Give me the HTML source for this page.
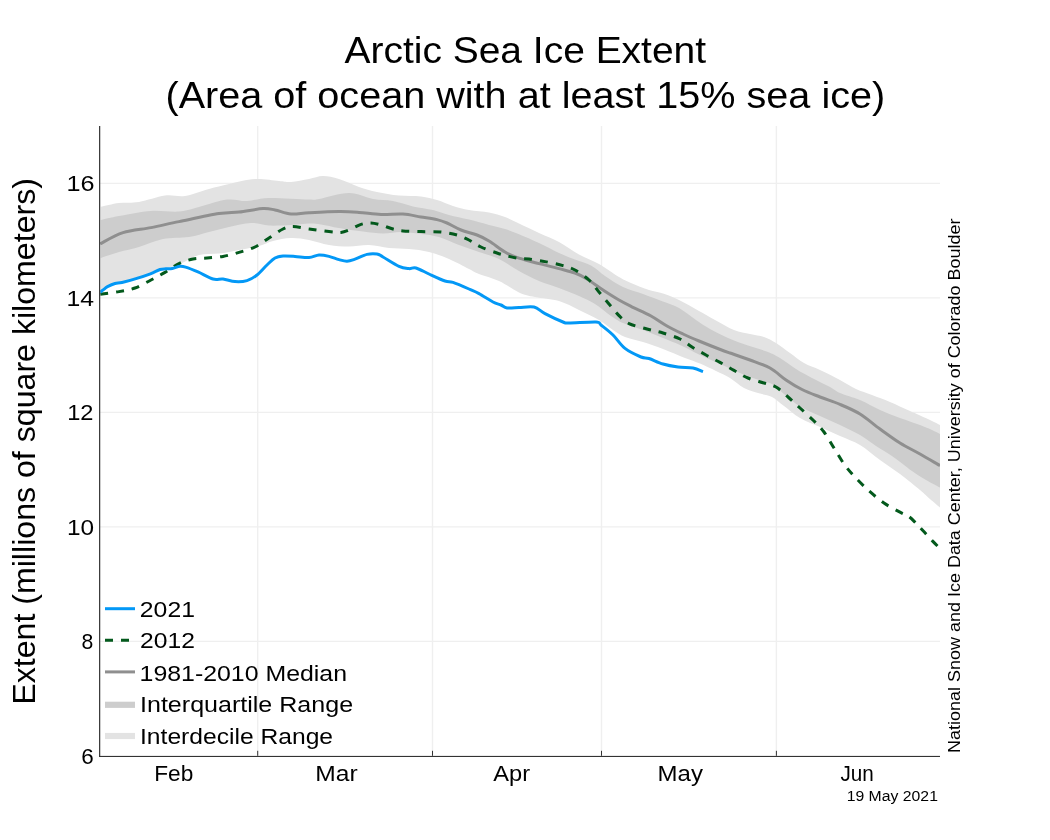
<!DOCTYPE html>
<html><head><meta charset="utf-8"><title>Arctic Sea Ice Extent</title>
<style>html,body{margin:0;padding:0;background:#fff;}body{width:1050px;height:840px;overflow:hidden;font-family:"Liberation Sans",sans-serif;}svg{display:block;will-change:transform;}</style></head>
<body>
<svg width="1050" height="840" viewBox="0 0 1050 840" font-family="Liberation Sans, sans-serif" fill="#000">
<rect width="1050" height="840" fill="#fff"/>
<g stroke="#efefef" stroke-width="1.4">
<line x1="100" x2="940" y1="183.4" y2="183.4"/>
<line x1="100" x2="940" y1="297.9" y2="297.9"/>
<line x1="100" x2="940" y1="412.4" y2="412.4"/>
<line x1="100" x2="940" y1="526.9" y2="526.9"/>
<line x1="100" x2="940" y1="641.4" y2="641.4"/>
<line x1="257.7" x2="257.7" y1="126" y2="756"/>
<line x1="432.5" x2="432.5" y1="126" y2="756"/>
<line x1="601.5" x2="601.5" y1="126" y2="756"/>
<line x1="776.4" x2="776.4" y1="126" y2="756"/>
</g>
<defs><clipPath id="pc"><rect x="100.2" y="126" width="839.8" height="630"/></clipPath></defs>
<g clip-path="url(#pc)">
<path d="M100.8 206.8 C103.8 206.2 112.6 203.8 119.0 203.0 C125.4 202.2 131.3 203.2 139.0 202.0 C146.7 200.8 157.3 196.6 165.0 195.6 C172.7 194.6 177.7 197.1 185.0 196.0 C192.3 194.9 201.7 191.0 209.0 189.0 C216.3 187.0 221.3 185.7 229.0 184.0 C236.7 182.3 246.7 179.5 255.0 179.0 C263.3 178.5 273.0 180.5 279.0 181.0 C285.0 181.5 286.0 182.3 291.0 182.0 C296.0 181.7 303.7 180.0 309.0 179.0 C314.3 178.0 318.0 176.0 323.0 176.0 C328.0 176.0 333.0 177.2 339.0 179.0 C345.0 180.8 352.7 184.8 359.0 187.0 C365.3 189.2 370.3 190.6 377.0 192.0 C383.7 193.4 391.7 194.9 399.0 195.6 C406.3 196.3 414.7 195.7 421.0 196.4 C427.3 197.1 431.7 198.4 437.0 200.0 C442.3 201.6 447.7 204.3 453.0 206.0 C458.3 207.7 463.0 208.9 469.0 210.0 C475.0 211.1 483.0 211.2 489.0 212.4 C495.0 213.6 500.0 215.1 505.0 217.0 C510.0 218.9 513.3 220.9 519.0 223.6 C524.7 226.3 532.3 229.9 539.0 233.0 C545.7 236.1 552.3 238.4 559.0 242.0 C565.7 245.6 572.3 250.7 579.0 254.4 C585.7 258.1 592.3 260.2 599.0 264.0 C605.7 267.8 613.7 273.8 619.0 277.0 C624.3 280.2 626.0 280.8 631.0 283.0 C636.0 285.2 643.7 288.2 649.0 290.0 C654.3 291.8 658.0 291.9 663.0 293.6 C668.0 295.3 673.0 297.1 679.0 300.0 C685.0 302.9 693.0 307.7 699.0 311.0 C705.0 314.3 709.2 316.8 715.0 320.0 C720.8 323.2 728.2 327.7 734.0 330.0 C739.8 332.3 745.0 332.8 750.0 334.0 C755.0 335.2 759.7 335.5 764.0 337.0 C768.3 338.5 771.7 340.3 776.0 343.0 C780.3 345.7 785.3 349.7 790.0 353.0 C794.7 356.3 799.0 360.2 804.0 363.0 C809.0 365.8 814.0 367.2 820.0 370.0 C826.0 372.8 834.0 376.8 840.0 380.0 C846.0 383.2 850.7 386.5 856.0 389.0 C861.3 391.5 866.3 392.8 872.0 395.0 C877.7 397.2 883.7 399.3 890.0 402.0 C896.3 404.7 903.3 408.0 910.0 411.0 C916.7 414.0 925.0 417.7 930.0 420.0 C935.0 422.3 938.3 424.2 940.0 425.0 L940.0 507.5 C938.3 506.1 933.3 501.9 930.0 499.0 C926.7 496.1 925.0 494.2 920.0 490.0 C915.0 485.8 906.7 479.0 900.0 474.0 C893.3 469.0 886.7 464.8 880.0 460.0 C873.3 455.2 866.7 449.0 860.0 445.0 C853.3 441.0 846.7 439.0 840.0 436.0 C833.3 433.0 826.7 430.0 820.0 427.0 C813.3 424.0 806.0 421.5 800.0 418.0 C794.0 414.5 788.7 409.5 784.0 406.0 C779.3 402.5 776.0 399.1 772.0 397.0 C768.0 394.9 764.7 395.1 760.0 393.6 C755.3 392.1 749.0 390.6 744.0 388.0 C739.0 385.4 734.7 380.8 730.0 378.0 C725.3 375.2 721.0 373.4 716.0 371.0 C711.0 368.6 705.2 365.8 700.0 363.6 C694.8 361.4 691.2 360.4 685.0 358.0 C678.8 355.6 670.0 351.7 663.0 349.0 C656.0 346.3 649.3 344.0 643.0 342.0 C636.7 340.0 630.0 339.0 625.0 337.0 C620.0 335.0 617.3 332.8 613.0 330.0 C608.7 327.2 604.7 323.3 599.0 320.0 C593.3 316.7 585.7 313.2 579.0 310.0 C572.3 306.8 566.3 303.2 559.0 301.0 C551.7 298.8 541.7 298.4 535.0 297.0 C528.3 295.6 525.0 295.1 519.0 292.4 C513.0 289.7 505.7 284.1 499.0 281.0 C492.3 277.9 484.0 276.0 479.0 274.0 C474.0 272.0 474.0 271.5 469.0 269.0 C464.0 266.5 455.7 261.8 449.0 259.0 C442.3 256.2 435.7 253.7 429.0 252.0 C422.3 250.3 415.7 249.7 409.0 249.0 C402.3 248.3 395.7 248.7 389.0 248.0 C382.3 247.3 375.7 245.2 369.0 245.0 C362.3 244.8 355.7 246.6 349.0 246.6 C342.3 246.6 335.7 246.1 329.0 245.0 C322.3 243.9 315.3 241.2 309.0 240.0 C302.7 238.8 297.0 237.8 291.0 238.0 C285.0 238.2 278.3 239.7 273.0 241.0 C267.7 242.3 264.7 244.5 259.0 246.0 C253.3 247.5 245.7 248.7 239.0 250.0 C232.3 251.3 225.7 252.8 219.0 253.6 C212.3 254.4 204.9 253.6 199.0 255.0 C193.1 256.4 187.5 260.5 183.7 262.2 C179.9 263.9 178.3 264.2 176.0 265.0 C173.7 265.8 172.7 266.5 170.0 267.2 C167.3 267.9 163.3 268.0 160.0 269.0 C156.7 270.0 154.4 271.7 150.4 273.2 C146.4 274.7 140.7 276.5 136.0 278.0 C131.3 279.5 125.5 281.2 122.0 282.0 C118.5 282.8 117.4 282.3 115.0 283.0 C112.6 283.7 109.9 284.9 107.5 286.2 C105.1 287.5 101.9 290.2 100.8 291.0Z" fill="#e3e3e3"/>
<path d="M100.8 220.0 C103.8 219.3 110.6 217.5 119.0 216.0 C127.4 214.5 141.0 211.7 151.0 211.0 C161.0 210.3 171.0 212.3 179.0 211.6 C187.0 210.9 191.0 209.0 199.0 207.0 C207.0 205.0 219.0 200.6 227.0 199.6 C235.0 198.6 240.0 201.3 247.0 201.0 C254.0 200.7 258.7 198.2 269.0 198.0 C279.3 197.8 300.7 199.4 309.0 199.6 C317.3 199.8 312.3 200.1 319.0 199.0 C325.7 197.9 340.0 193.0 349.0 193.0 C358.0 193.0 365.7 197.7 373.0 199.0 C380.3 200.3 386.3 199.8 393.0 201.0 C399.7 202.2 406.3 204.9 413.0 206.4 C419.7 207.9 427.0 208.6 433.0 210.0 C439.0 211.4 443.0 213.4 449.0 215.0 C455.0 216.6 462.3 217.9 469.0 219.6 C475.7 221.3 483.0 223.4 489.0 225.0 C495.0 226.6 500.0 227.5 505.0 229.0 C510.0 230.5 513.3 231.9 519.0 234.2 C524.7 236.5 532.3 239.9 539.0 243.0 C545.7 246.1 553.0 250.2 559.0 253.0 C565.0 255.8 569.7 257.5 575.0 259.6 C580.3 261.7 586.0 262.9 591.0 265.6 C596.0 268.3 599.7 272.4 605.0 276.0 C610.3 279.6 616.7 284.0 623.0 287.0 C629.3 290.0 636.3 291.6 643.0 294.0 C649.7 296.4 657.0 299.3 663.0 301.6 C669.0 303.9 673.5 304.9 679.0 308.0 C684.5 311.1 690.8 316.5 696.0 320.0 C701.2 323.5 704.7 326.0 710.0 329.0 C715.3 332.0 721.7 335.2 728.0 338.0 C734.3 340.8 741.3 343.3 748.0 345.6 C754.7 347.9 762.7 349.9 768.0 352.0 C773.3 354.1 775.3 355.2 780.0 358.0 C784.7 360.8 790.7 365.7 796.0 369.0 C801.3 372.3 806.3 375.0 812.0 378.0 C817.7 381.0 825.3 384.5 830.0 387.0 C834.7 389.5 835.0 390.8 840.0 393.0 C845.0 395.2 853.3 397.2 860.0 400.0 C866.7 402.8 873.3 407.0 880.0 410.0 C886.7 413.0 893.3 415.5 900.0 418.0 C906.7 420.5 914.7 423.0 920.0 425.0 C925.3 427.0 928.7 428.5 932.0 430.0 C935.3 431.5 938.7 433.3 940.0 434.0 L940.0 487.5 C937.7 486.2 930.7 482.8 926.0 480.0 C921.3 477.2 917.7 475.0 912.0 471.0 C906.3 467.0 898.0 460.2 892.0 456.0 C886.0 451.8 881.3 449.5 876.0 446.0 C870.7 442.5 866.0 438.5 860.0 435.0 C854.0 431.5 846.7 428.2 840.0 425.0 C833.3 421.8 826.7 419.1 820.0 416.0 C813.3 412.9 806.0 410.2 800.0 406.5 C794.0 402.8 788.7 397.8 784.0 394.0 C779.3 390.2 776.7 386.5 772.0 384.0 C767.3 381.5 761.3 380.8 756.0 379.0 C750.7 377.2 746.0 375.5 740.0 373.0 C734.0 370.5 726.7 367.0 720.0 364.0 C713.3 361.0 706.7 358.2 700.0 355.0 C693.3 351.8 686.2 347.8 680.0 345.0 C673.8 342.2 669.2 340.5 663.0 338.0 C656.8 335.5 649.7 332.5 643.0 330.0 C636.3 327.5 628.3 325.3 623.0 323.0 C617.7 320.7 615.7 319.2 611.0 316.0 C606.3 312.8 600.3 307.3 595.0 304.0 C589.7 300.7 585.0 298.7 579.0 296.0 C573.0 293.3 565.7 290.5 559.0 288.0 C552.3 285.5 545.7 283.8 539.0 281.0 C532.3 278.2 525.7 274.7 519.0 271.0 C512.3 267.3 505.7 262.2 499.0 259.0 C492.3 255.8 485.7 254.3 479.0 252.0 C472.3 249.7 465.7 247.5 459.0 245.0 C452.3 242.5 445.3 238.8 439.0 237.0 C432.7 235.2 427.3 234.8 421.0 234.0 C414.7 233.2 407.3 232.1 401.0 232.0 C394.7 231.9 389.3 233.7 383.0 233.6 C376.7 233.5 370.3 232.5 363.0 231.6 C355.7 230.7 346.0 229.2 339.0 228.0 C332.0 226.8 326.0 225.1 321.0 224.4 C316.0 223.7 314.0 223.5 309.0 223.6 C304.0 223.7 297.7 224.7 291.0 225.0 C284.3 225.3 275.7 225.9 269.0 225.6 C262.3 225.3 257.7 222.8 251.0 223.0 C244.3 223.2 236.0 225.5 229.0 227.0 C222.0 228.5 215.7 230.3 209.0 232.0 C202.3 233.7 196.7 235.8 189.0 237.0 C181.3 238.2 171.3 237.3 163.0 239.0 C154.7 240.7 146.3 244.8 139.0 247.0 C131.7 249.2 125.4 250.2 119.0 252.0 C112.6 253.8 103.8 257.0 100.8 258.0Z" fill="#cdcdcd"/>
<g fill="none" stroke-width="3" stroke-linejoin="round">
<path d="M100.2 243.8 C104.0 241.9 114.5 235.3 123.0 232.6 C131.5 229.9 141.7 229.4 151.0 227.6 C160.3 225.8 167.7 223.9 179.0 221.6 C190.3 219.3 209.0 215.2 219.0 213.6 C229.0 212.0 231.7 212.8 239.0 212.0 C246.3 211.2 257.0 208.9 263.0 208.6 C269.0 208.3 270.3 209.1 275.0 210.0 C279.7 210.9 285.3 213.5 291.0 214.0 C296.7 214.5 301.0 213.2 309.0 212.8 C317.0 212.4 330.7 211.7 339.0 211.6 C347.3 211.5 352.0 211.9 359.0 212.4 C366.0 212.9 373.7 214.1 381.0 214.4 C388.3 214.7 396.3 213.6 403.0 214.0 C409.7 214.4 415.3 216.1 421.0 217.0 C426.7 217.9 432.7 218.6 437.0 219.6 C441.3 220.6 443.0 221.3 447.0 223.0 C451.0 224.7 456.0 228.0 461.0 230.0 C466.0 232.0 472.3 233.2 477.0 235.0 C481.7 236.8 484.3 238.2 489.0 241.0 C493.7 243.8 500.0 249.1 505.0 252.0 C510.0 254.9 513.3 256.3 519.0 258.2 C524.7 260.1 532.3 261.9 539.0 263.6 C545.7 265.3 553.0 267.0 559.0 268.6 C565.0 270.2 570.3 271.3 575.0 273.0 C579.7 274.7 582.3 276.2 587.0 279.0 C591.7 281.8 597.7 286.5 603.0 290.0 C608.3 293.5 614.3 297.3 619.0 300.0 C623.7 302.7 625.7 303.7 631.0 306.4 C636.3 309.1 645.0 312.7 651.0 316.0 C657.0 319.3 661.7 323.0 667.0 326.0 C672.3 329.0 677.7 331.5 683.0 334.0 C688.3 336.5 693.0 338.5 699.0 341.0 C705.0 343.5 713.8 347.0 719.0 349.0 C724.2 351.0 724.8 351.2 730.0 353.0 C735.2 354.8 743.3 357.5 750.0 360.0 C756.7 362.5 764.0 364.7 770.0 368.0 C776.0 371.3 780.7 376.4 786.0 380.0 C791.3 383.6 796.3 386.7 802.0 389.5 C807.7 392.3 813.7 394.5 820.0 397.0 C826.3 399.5 833.3 401.6 840.0 404.4 C846.7 407.2 853.3 409.9 860.0 414.0 C866.7 418.1 873.3 424.2 880.0 429.0 C886.7 433.8 893.3 438.8 900.0 443.0 C906.7 447.2 913.3 450.2 920.0 454.0 C926.7 457.8 936.7 463.7 940.0 465.6" stroke="#8f8f8f"/>
<path d="M100.2 294.3 C103.3 293.9 113.2 292.7 119.0 291.6 C124.8 290.6 129.7 289.9 135.0 288.0 C140.3 286.1 146.0 282.6 151.0 280.0 C156.0 277.4 160.3 275.1 165.0 272.4 C169.7 269.7 174.3 265.8 179.0 263.6 C183.7 261.4 188.3 259.9 193.0 259.0 C197.7 258.1 202.0 258.4 207.0 258.0 C212.0 257.6 217.7 257.3 223.0 256.4 C228.3 255.5 233.7 254.0 239.0 252.4 C244.3 250.8 250.0 249.4 255.0 247.0 C260.0 244.6 264.3 241.0 269.0 238.0 C273.7 235.0 279.0 230.9 283.0 229.0 C287.0 227.1 288.7 226.6 293.0 226.6 C297.3 226.6 303.0 228.2 309.0 229.0 C315.0 229.8 323.7 231.0 329.0 231.6 C334.3 232.2 337.7 232.7 341.0 232.4 C344.3 232.1 345.7 231.3 349.0 230.0 C352.3 228.7 357.3 225.6 361.0 224.4 C364.7 223.2 367.7 222.9 371.0 223.0 C374.3 223.1 377.3 224.0 381.0 225.0 C384.7 226.0 389.3 228.0 393.0 229.0 C396.7 230.0 398.3 230.6 403.0 231.0 C407.7 231.4 414.7 231.4 421.0 231.6 C427.3 231.8 435.0 231.4 441.0 232.0 C447.0 232.6 452.3 233.7 457.0 235.0 C461.7 236.3 465.0 238.0 469.0 240.0 C473.0 242.0 476.3 244.8 481.0 247.0 C485.7 249.2 492.3 251.4 497.0 253.0 C501.7 254.6 505.3 255.5 509.0 256.4 C512.7 257.3 515.7 258.0 519.0 258.4 C522.3 258.8 524.7 258.5 529.0 259.0 C533.3 259.5 539.3 260.5 545.0 261.6 C550.7 262.7 558.0 264.2 563.0 265.6 C568.0 267.0 570.7 267.6 575.0 270.0 C579.3 272.4 585.0 276.3 589.0 280.0 C593.0 283.7 595.7 288.0 599.0 292.0 C602.3 296.0 605.7 300.1 609.0 304.0 C612.3 307.9 615.7 312.3 619.0 315.6 C622.3 318.9 624.3 321.4 629.0 323.6 C633.7 325.8 641.3 327.4 647.0 329.0 C652.7 330.6 657.5 331.3 663.0 333.0 C668.5 334.7 675.2 336.7 680.0 339.0 C684.8 341.3 687.7 344.3 692.0 347.0 C696.3 349.7 701.3 352.4 706.0 355.0 C710.7 357.6 715.3 359.8 720.0 362.4 C724.7 365.0 729.3 367.8 734.0 370.4 C738.7 373.0 743.0 375.9 748.0 378.0 C753.0 380.1 759.3 381.5 764.0 383.0 C768.7 384.5 772.0 384.7 776.0 387.0 C780.0 389.3 784.0 393.5 788.0 397.0 C792.0 400.5 795.7 404.0 800.0 408.0 C804.3 412.0 810.0 417.0 814.0 421.0 C818.0 425.0 820.7 427.5 824.0 432.0 C827.3 436.5 830.7 442.7 834.0 448.0 C837.3 453.3 840.7 459.3 844.0 464.0 C847.3 468.7 850.0 471.7 854.0 476.0 C858.0 480.3 863.0 485.5 868.0 490.0 C873.0 494.5 878.7 499.3 884.0 503.0 C889.3 506.7 895.9 510.0 900.0 512.2 C904.1 514.4 906.0 514.6 908.6 516.4 C911.2 518.2 913.1 520.3 915.7 522.9 C918.3 525.5 921.4 529.0 924.3 532.1 C927.2 535.2 930.5 538.9 932.9 541.4 C935.3 543.9 937.6 546.1 938.6 547.1" stroke="#03591c" stroke-dasharray="8 7.97"/>
<path d="M100.2 292.2 C100.8 291.8 102.3 290.5 103.5 289.6 C104.7 288.7 105.6 287.7 107.5 286.7 C109.4 285.7 112.6 284.2 115.0 283.5 C117.4 282.8 118.5 283.3 122.0 282.5 C125.5 281.7 131.3 280.1 136.0 278.6 C140.7 277.2 146.4 275.3 150.4 273.8 C154.4 272.3 157.4 270.3 160.0 269.5 C162.6 268.7 163.9 269.0 166.0 268.8 C168.1 268.6 170.0 268.9 172.3 268.5 C174.6 268.1 177.8 266.5 180.0 266.3 C182.2 266.1 182.6 266.2 185.6 267.1 C188.6 268.0 193.4 269.9 198.0 271.9 C202.6 273.9 208.8 277.8 213.0 279.0 C217.2 280.2 219.3 278.6 223.0 279.0 C226.7 279.4 231.0 281.3 235.0 281.6 C239.0 281.9 243.3 281.7 247.0 280.6 C250.7 279.5 253.7 277.6 257.0 275.0 C260.3 272.4 264.0 267.8 267.0 265.0 C270.0 262.2 272.3 259.5 275.0 258.0 C277.7 256.5 279.7 256.3 283.0 256.0 C286.3 255.7 290.7 256.1 295.0 256.4 C299.3 256.7 305.0 257.8 309.0 257.6 C313.0 257.4 315.7 255.2 319.0 255.0 C322.3 254.8 325.7 255.6 329.0 256.4 C332.3 257.2 336.0 258.8 339.0 259.6 C342.0 260.4 344.3 261.3 347.0 261.2 C349.7 261.1 351.7 260.3 355.0 259.2 C358.3 258.1 363.3 255.3 367.0 254.4 C370.7 253.5 374.3 253.6 377.0 254.0 C379.7 254.4 379.3 254.9 383.0 257.0 C386.7 259.1 394.7 264.5 399.0 266.4 C403.3 268.3 406.2 268.3 409.0 268.6 C411.8 268.9 412.7 267.1 416.0 268.0 C419.3 268.9 424.2 271.8 429.0 274.0 C433.8 276.2 441.0 279.6 445.0 281.0 C449.0 282.4 449.0 281.1 453.0 282.4 C457.0 283.7 464.7 287.1 469.0 289.0 C473.3 290.9 475.0 291.4 479.0 293.6 C483.0 295.8 489.3 300.1 493.0 302.0 C496.7 303.9 498.7 304.0 501.0 305.0 C503.3 306.0 504.0 307.6 507.0 308.0 C510.0 308.4 514.5 307.8 519.0 307.6 C523.5 307.4 529.7 306.0 534.0 307.0 C538.3 308.0 540.2 311.1 545.0 313.6 C549.8 316.1 559.0 320.4 563.0 322.0 C567.0 323.6 563.5 323.0 569.0 323.0 C574.5 323.0 590.7 321.7 596.0 322.0 C601.3 322.3 598.2 322.8 601.0 325.0 C603.8 327.2 609.0 331.1 613.0 335.0 C617.0 338.9 620.3 344.7 625.0 348.4 C629.7 352.1 637.0 355.3 641.0 357.0 C645.0 358.7 645.3 357.3 649.0 358.5 C652.7 359.7 658.2 362.6 663.0 364.0 C667.8 365.4 673.0 366.3 678.0 367.0 C683.0 367.7 688.8 367.2 693.0 368.0 C697.2 368.8 701.3 371.0 703.0 371.6" stroke="#0398f6"/>
</g>
</g>
<g fill="#333">
<rect x="99.05" y="126" width="1.2" height="631"/>
<rect x="99" y="755.9" width="841" height="1.1"/>
<rect x="257.2" y="750.8" width="1" height="5"/>
<rect x="432.0" y="750.8" width="1" height="5"/>
<rect x="601.0" y="750.8" width="1" height="5"/>
<rect x="775.9" y="750.8" width="1" height="5"/>
</g>
<line x1="105" x2="135" y1="608.7" y2="608.7" stroke="#0398f6" stroke-width="3"/>
<line x1="105" x2="135" y1="640.3" y2="640.3" stroke="#03591c" stroke-width="3" stroke-dasharray="8 8"/>
<line x1="105" x2="135" y1="671.9" y2="671.9" stroke="#8f8f8f" stroke-width="3"/>
<line x1="105" x2="135" y1="704.8" y2="704.8" stroke="#cdcdcd" stroke-width="6.2"/>
<line x1="105" x2="135" y1="736" y2="736" stroke="#e3e3e3" stroke-width="6.2"/>
<text x="344.50" y="62.7" font-size="37.2" textLength="361.58" lengthAdjust="spacingAndGlyphs">Arctic Sea Ice Extent</text>
<text x="165.49" y="107.7" font-size="37.2" textLength="719.72" lengthAdjust="spacingAndGlyphs">(Area of ocean with at least 15% sea ice)</text>
<text x="66.43" y="191.0" font-size="22.5" textLength="28.03" lengthAdjust="spacingAndGlyphs">16</text>
<text x="66.54" y="305.5" font-size="22.5" textLength="27.56" lengthAdjust="spacingAndGlyphs">14</text>
<text x="67.19" y="420.0" font-size="22.5" textLength="26.31" lengthAdjust="spacingAndGlyphs">12</text>
<text x="67.05" y="534.5" font-size="22.5" textLength="27.11" lengthAdjust="spacingAndGlyphs">10</text>
<text x="81.51" y="648.9" font-size="22.5" textLength="11.79" lengthAdjust="spacingAndGlyphs">8</text>
<text x="81.30" y="763.6" font-size="22.5" textLength="12.47" lengthAdjust="spacingAndGlyphs">6</text>
<text x="154.22" y="780.7" font-size="22.5" textLength="39.03" lengthAdjust="spacingAndGlyphs">Feb</text>
<text x="315.26" y="780.7" font-size="22.5" textLength="42.36" lengthAdjust="spacingAndGlyphs">Mar</text>
<text x="493.36" y="780.7" font-size="22.5" textLength="36.77" lengthAdjust="spacingAndGlyphs">Apr</text>
<text x="657.60" y="780.7" font-size="22.5" textLength="45.35" lengthAdjust="spacingAndGlyphs">May</text>
<text x="840.42" y="780.7" font-size="22.5" textLength="33.36" lengthAdjust="spacingAndGlyphs">Jun</text>
<text x="846.70" y="801.2" font-size="15.1" textLength="91.23" lengthAdjust="spacingAndGlyphs">19 May 2021</text>
<text x="139.87" y="616.7" font-size="22.5" textLength="55.07" lengthAdjust="spacingAndGlyphs">2021</text>
<text x="140.00" y="648.2" font-size="22.5" textLength="54.85" lengthAdjust="spacingAndGlyphs">2012</text>
<text x="139.62" y="680.7" font-size="22.5" textLength="207.39" lengthAdjust="spacingAndGlyphs">1981-2010 Median</text>
<text x="140.00" y="711.9" font-size="22.5" textLength="213.07" lengthAdjust="spacingAndGlyphs">Interquartile Range</text>
<text x="140.03" y="743.9" font-size="22.5" textLength="193.04" lengthAdjust="spacingAndGlyphs">Interdecile Range</text>
<text transform="translate(34.6,704.77) rotate(-90)" font-size="30.5" textLength="526.78" lengthAdjust="spacingAndGlyphs">Extent (millions of square kilometers)</text>
<text transform="translate(960.0,752.90) rotate(-90)" font-size="16.6" textLength="534.40" lengthAdjust="spacingAndGlyphs">National Snow and Ice Data Center, University of Colorado Boulder</text>
</svg>
</body></html>
